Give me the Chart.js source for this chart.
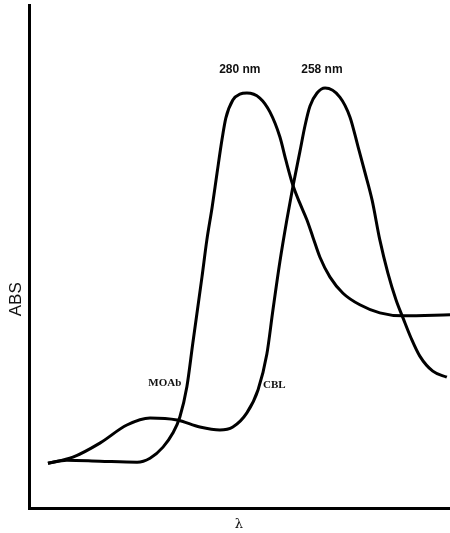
<!DOCTYPE html>
<html>
<head>
<meta charset="utf-8">
<script src="https://cdn.jsdelivr.net/npm/chart.js@4/dist/chart.umd.min.js"></script>
<style>
  html, body { margin: 0; padding: 0; background: #fff; }
  #wrap { width: 450px; height: 533px; }
</style>
</head>
<body>
<div id="wrap"><canvas id="chart"></canvas></div>
<script>
// wavelength (nm), scanned from long to short
const moabWl  = [336.6, 331.2, 321.8, 311.2, 307.5, 303.8, 301.0, 299.0, 297.0, 295.3, 292.7, 291.3, 289.8, 288.4, 287.0, 285.9, 283.9, 281.9, 279.9, 276.2, 273.3, 270.5, 268.8, 266.8, 264.8, 262.8, 261.1, 259.1, 256.2, 252.5, 247.7, 242.0, 235.4, 222.0];
const moabAbs = [0.089, 0.095, 0.093, 0.091, 0.099, 0.121, 0.149, 0.181, 0.241, 0.328, 0.459, 0.533, 0.598, 0.666, 0.732, 0.775, 0.811, 0.823, 0.825, 0.815, 0.787, 0.738, 0.692, 0.642, 0.606, 0.573, 0.539, 0.499, 0.459, 0.427, 0.404, 0.388, 0.382, 0.384];

const cblWl  = [336.6, 329.5, 321.8, 314.1, 307.5, 299.8, 293.3, 287.6, 283.9, 279.9, 276.7, 274.2, 272.5, 270.5, 268.5, 266.8, 264.8, 263.3, 261.9, 259.9, 257.6, 253.4, 250.5, 248.2, 246.2, 244.2, 242.0, 239.7, 237.4, 235.4, 233.1, 230.6, 226.9, 222.9];
const cblAbs = [0.089, 0.101, 0.129, 0.165, 0.179, 0.175, 0.161, 0.155, 0.161, 0.189, 0.235, 0.306, 0.392, 0.489, 0.573, 0.638, 0.708, 0.761, 0.799, 0.825, 0.835, 0.817, 0.777, 0.718, 0.666, 0.612, 0.533, 0.467, 0.414, 0.378, 0.338, 0.302, 0.272, 0.260];

// text labels placed in data units: [text, wavelength, abs, align, font]
const notes = [
  ['280 nm', 281.9, 0.871, 'center', 'bold 12px "Liberation Sans", Arial, sans-serif'],
  ['258 nm', 258.5, 0.871, 'center', 'bold 12px "Liberation Sans", Arial, sans-serif'],
  ['MOAb', 298.6, 0.249, 'right', 'bold 11px "Liberation Serif", "Times New Roman", serif'],
  ['CBL', 275.3, 0.245, 'left', 'bold 11px "Liberation Serif", "Times New Roman", serif']
];

const toPts = (xs, ys) => xs.map((x, i) => ({ x, y: ys[i] }));

const notesPlugin = {
  id: 'notes',
  afterDatasetsDraw(chart) {
    const { ctx, scales: { x, y }, chartArea } = chart;
    ctx.save();
    ctx.fillStyle = '#111';
    ctx.textBaseline = 'middle';
    notes.forEach(([t, wl, a, align, font]) => {
      ctx.font = font;
      ctx.textAlign = align;
      ctx.fillText(t, x.getPixelForValue(wl), y.getPixelForValue(a));
    });
    // axis titles
    ctx.font = '17px "Liberation Sans", Arial, sans-serif';
    ctx.textAlign = 'center';
    ctx.save();
    ctx.translate(chartArea.left - 13, y.getPixelForValue(0.415));
    ctx.rotate(-Math.PI / 2);
    ctx.fillText('ABS', 0, 0);
    ctx.restore();
    ctx.font = '13px "DejaVu Serif", serif';
    ctx.fillText('λ', x.getPixelForValue(282.2), chartArea.bottom + 17);
    ctx.restore();
  }
};

const lineStyle = {
  borderColor: '#000',
  borderWidth: 3,
  pointRadius: 0,
  fill: false,
  cubicInterpolationMode: 'monotone'
};

new Chart(document.getElementById('chart'), {
  type: 'line',
  data: {
    datasets: [
      { label: 'MOAb', data: toPts(moabWl, moabAbs), ...lineStyle },
      { label: 'CBL', data: toPts(cblWl, cblAbs), ...lineStyle }
    ]
  },
  options: {
    responsive: true,
    maintainAspectRatio: false,
    animation: false,
    layout: { padding: { left: 29, top: 5, right: 0, bottom: 25 } },
    plugins: { legend: { display: false }, tooltip: { enabled: false } },
    scales: {
      x: {
        type: 'linear', reverse: true, min: 222, max: 342,
        grid: { display: false, drawTicks: false },
        ticks: { display: false },
        border: { display: true, color: '#000', width: 3 }
      },
      y: {
        min: 0, max: 1,
        grid: { display: false, drawTicks: false },
        ticks: { display: false },
        border: { display: true, color: '#000', width: 3 }
      }
    }
  },
  plugins: [notesPlugin]
});
</script>
</body>
</html>
